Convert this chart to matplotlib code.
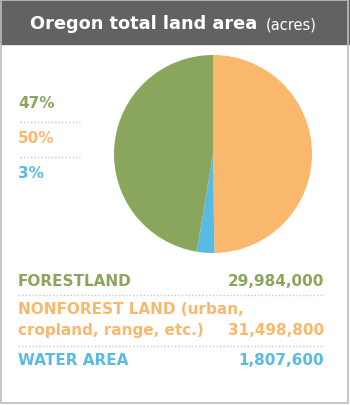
import matplotlib
matplotlib.use("Agg")
import matplotlib.pyplot as plt
from matplotlib.patches import Rectangle

# data
labels = ["FORESTLAND", "NONFOREST LAND (urban,", "WATER AREA"]
label2 = "cropland, range, etc.)"
acres = [29984000, 31498800, 1807600]
pct_labels = ["47%", "50%", "3%"]
colors = ["#8aa65c", "#fab86c", "#58bbe5"]

W, H = 350, 406
fig = plt.figure(figsize=(W / 100, H / 100), dpi=100)
plt.rcParams["font.family"] = ["DejaVu Sans"]


def fx(px):
    return px / W


def fy(py):
    return 1 - py / H


# header band + outer border
fig.patches.append(Rectangle((0, fy(45)), 1, 45 / H, transform=fig.transFigure,
                             color="#616263", zorder=0))
fig.patches.append(Rectangle((fx(1), fy(404)), fx(347), (404 - 1) / H,
                             transform=fig.transFigure, fill=False,
                             edgecolor="#bdbdbd", lw=1.2, zorder=1))
fig.text(fx(30), fy(24), "Oregon total land area", color="white",
         fontsize=12.8, fontweight="bold", va="center", ha="left")
fig.text(fx(266), fy(25), "(acres)", color="white", fontsize=10.5,
         va="center", ha="left")

# pie: nonforest from 12 o'clock clockwise, then water, then forest
ax = fig.add_axes([fx(213 - 99), fy(155 + 99), 198 / W, 198 / H])
order = [1, 2, 0]
ax.pie([acres[i] for i in order], colors=[colors[i] for i in order],
       startangle=90, counterclock=False, wedgeprops=dict(linewidth=0))
ax.set_xlim(-1, 1)
ax.set_ylim(-1, 1)
ax.set_aspect("equal")
ax.axis("off")

# left percentage labels
for i, y in enumerate([104, 139, 174]):
    fig.text(fx(18), fy(y), pct_labels[i], color=colors[i], fontsize=11,
             fontweight="bold", va="center", ha="left")
for y in [123, 158]:
    fig.add_artist(plt.Line2D([fx(20), fx(80)], [fy(y), fy(y)], color="#c8c8c8",
                              lw=1, ls=(0, (1, 1.5)), transform=fig.transFigure))

# bottom legend table
rows = [(282, 282), (310, 331), (361, 361)]
for i, (ytop, yval) in enumerate(rows):
    fig.text(fx(18), fy(ytop), labels[i], color=colors[i], fontsize=11,
             fontweight="bold", va="center", ha="left")
    fig.text(fx(324), fy(yval), f"{acres[i]:,}", color=colors[i], fontsize=11,
             fontweight="bold", va="center", ha="right")
fig.text(fx(18), fy(331), label2, color=colors[1], fontsize=11,
         fontweight="bold", va="center", ha="left")
for y in [296, 347]:
    fig.add_artist(plt.Line2D([fx(18), fx(324)], [fy(y), fy(y)], color="#c8c8c8",
                              lw=1, ls=(0, (1, 1.5)), transform=fig.transFigure))

fig.savefig("out.png", dpi=100)
